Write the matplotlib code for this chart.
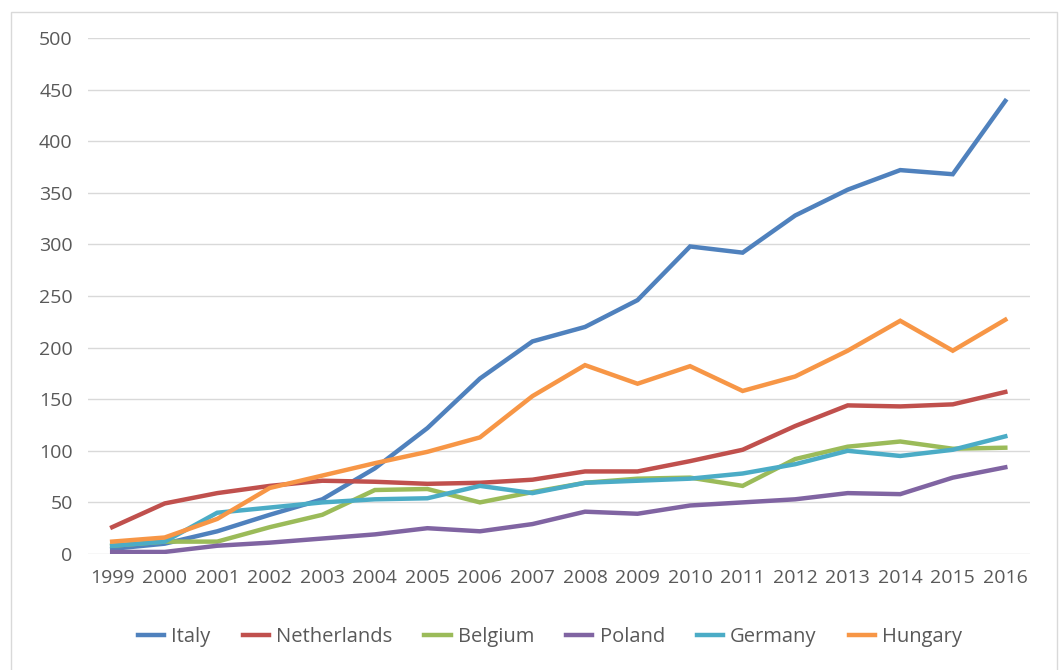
import numpy as np
import matplotlib
matplotlib.use("Agg")
import matplotlib.pyplot as plt
from matplotlib.patches import Rectangle

years = [str(y) for y in range(1999, 2017)]

italy = [5, 10, 22, 38, 53, 83, 122, 170, 206, 220, 246, 298, 292, 328, 353, 372, 368, 439]
netherlands = [26, 49, 59, 66, 71, 70, 68, 69, 72, 80, 80, 90, 101, 124, 144, 143, 145, 157]
belgium = [8, 12, 12, 26, 38, 62, 63, 50, 60, 69, 73, 74, 66, 92, 104, 109, 102, 103]
poland = [2, 2, 8, 11, 15, 19, 25, 22, 29, 41, 39, 47, 50, 53, 59, 58, 74, 84]
germany = [8, 12, 40, 45, 50, 53, 54, 66, 59, 69, 71, 73, 78, 87, 100, 95, 101, 114]
hungary = [12, 16, 34, 64, 76, 88, 99, 113, 153, 183, 165, 182, 158, 172, 197, 226, 197, 227]

series = [
    ("Italy", italy, "#4F81BD"),
    ("Netherlands", netherlands, "#C0504D"),
    ("Belgium", belgium, "#9BBB59"),
    ("Poland", poland, "#8064A2"),
    ("Germany", germany, "#4BACC6"),
    ("Hungary", hungary, "#F79646"),
]

plt.rcParams['font.family'] = ['Open Sans', 'DejaVu Sans']
text_color = "#595959"

fig = plt.figure(figsize=(10.62, 6.70), dpi=100)
ax = fig.add_axes([88 / 1062, 1 - 554 / 670, (1030 - 88) / 1062, (554 - 38) / 670])

# light frame around the chart area
fig.patches.append(Rectangle((11 / 1062, -0.01), (1057 - 11) / 1062, 1 - 12 / 670 + 0.01,
                             transform=fig.transFigure, fill=False,
                             edgecolor="#D9D9D9", linewidth=1.0))

x = np.arange(len(years))
for name, vals, col in series:
    ax.plot(x, vals, color=col, linewidth=3.2, label=name, solid_joinstyle="miter")

ax.set_xlim(-0.46, len(years) - 1 + 0.47)
ax.set_ylim(0, 500)
ax.set_yticks(np.arange(0, 501, 50))
ax.set_xticks(x)
ax.set_xticklabels(years)
ax.grid(axis="y", color="#D9D9D9", linewidth=1.0)
ax.set_axisbelow(True)
for s in ax.spines.values():
    s.set_visible(False)
ax.tick_params(axis="both", length=0, labelsize=14, colors=text_color)
ax.tick_params(axis="y", pad=11)
ax.tick_params(axis="x", pad=11)

leg = fig.legend(loc="center", bbox_to_anchor=(0.518, 1 - 637 / 670), ncol=6, frameon=False,
                 fontsize=14.5, handlelength=1.3, columnspacing=1.6, handletextpad=0.35)
for t in leg.get_texts():
    t.set_color(text_color)

fig.savefig("out.png", dpi=100)
